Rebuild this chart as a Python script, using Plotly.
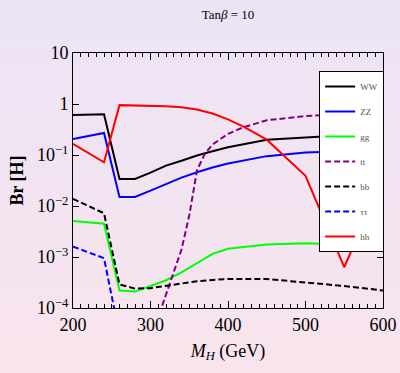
import numpy as np
import plotly.graph_objects as go

# ---------------- data ----------------
mh_main = [200, 240, 260, 280, 300, 320, 340, 360, 380, 400, 450, 500, 550, 600]
br_ww = [0.61, 0.63, 0.034, 0.034, 0.045, 0.062, 0.077, 0.098, 0.118, 0.142, 0.20, 0.225, 0.245, 0.255]
br_zz = [0.205, 0.27, 0.015, 0.015, 0.020, 0.027, 0.036, 0.046, 0.057, 0.068, 0.095, 0.112, 0.12, 0.125]
br_gg = [0.0051, 0.0045, 2.2e-4, 2.1e-4, 2.7e-4, 3.5e-4, 5.0e-4, 7.5e-4, 1.15e-3, 1.45e-3, 1.75e-3, 1.85e-3, 1.75e-3, 1.35e-3]
br_bb = [0.0138, 0.0072, 2.9e-4, 2.4e-4, 2.45e-4, 2.7e-4, 3.0e-4, 3.35e-4, 3.55e-4, 3.7e-4, 3.7e-4, 3.2e-4, 2.7e-4, 2.2e-4]

mh_tau = [200, 240, 260]
br_tau = [1.6e-3, 9.5e-4, 3e-5]

mh_tt = [300, 320, 340, 350, 360, 370, 380, 400, 420, 450, 500, 550, 600]
br_tt = [2.4e-5, 1.9e-4, 1.4e-3, 6.5e-3, 0.05, 0.105, 0.16, 0.26, 0.35, 0.48, 0.58, 0.63, 0.65]

mh_hh = [200, 240, 260, 280, 300, 320, 340, 360, 380, 400, 420, 450, 500, 550, 600]
br_hh = [0.165, 0.072, 0.95, 0.94, 0.92, 0.90, 0.86, 0.78, 0.65, 0.50, 0.36, 0.20, 0.039, 6.3e-4, 0.035]

y_tickvals = [10, 1, 0.1, 0.01, 0.001, 0.0001]
y_ticktext = ["10", "1", "10<sup>−1</sup>", "10<sup>−2</sup>", "10<sup>−3</sup>", "10<sup>−4</sup>"]
x_tickvals = [200, 300, 400, 500, 600]

series = [
    ("WW", mh_main, br_ww, "#000000", "solid"),
    ("ZZ", mh_main, br_zz, "#0000ff", "solid"),
    ("gg", mh_main, br_gg, "#00ff00", "solid"),
    ("tt", mh_tt, br_tt, "#800080", "6px,3px"),
    ("bb", mh_main, br_bb, "#000000", "6px,3px"),
    ("ττ", mh_tau, br_tau, "#0000ff", "6px,3px"),
    ("hh", mh_hh, br_hh, "#ff0000", "solid"),
]

FONT = "Liberation Serif, Times New Roman, serif"

fig = go.Figure()
for name, xs, ys, col, dash in series:
    fig.add_trace(go.Scatter(
        x=xs, y=ys, mode="lines", name=name, legendgroup=name,
        line=dict(color=col, width=2, dash=dash),
    ))

# background gradient (lavender top -> pink bottom)
top_c = np.array([236, 228, 246])
bot_c = np.array([249, 228, 237])
n = 30
edges = np.linspace(1.21, -0.26, n + 1)
shapes = []
for i in range(n):
    t = i / (n - 1)
    c = (top_c * (1 - t) + bot_c * t).astype(int)
    shapes.append(dict(type="rect", xref="paper", yref="paper",
                       x0=-0.3, x1=1.1, y0=edges[i + 1], y1=edges[i],
                       fillcolor=f"rgb({c[0]},{c[1]},{c[2]})",
                       line=dict(width=0), layer="below"))

fig.update_layout(
    width=400, height=373,
    margin=dict(l=73, r=17, t=53, b=65),
    paper_bgcolor="rgb(242,228,242)",
    plot_bgcolor="rgba(0,0,0,0)",
    shapes=shapes,
    font=dict(family=FONT, color="black"),
    title=dict(text="Tan<i>β</i> = 10", x=0.57, xanchor="center",
               y=0.962, yanchor="middle", font=dict(size=13, family=FONT)),
    showlegend=True,
    legend=dict(x=0.794, y=0.929, xanchor="left", yanchor="top",
                bgcolor="white", bordercolor="black", borderwidth=1,
                font=dict(size=9, color="#555555", family=FONT),
                tracegroupgap=6, itemwidth=30),
)

fig.update_xaxes(
    range=[200, 600], tickvals=x_tickvals, automargin=False,
    ticks="inside", ticklen=7, tickwidth=1, tickcolor="black",
    minor=dict(dtick=10, ticks="inside", ticklen=4, tickcolor="black", tickwidth=1),
    showline=True, linecolor="black", linewidth=1, mirror="ticks",
    showgrid=False, zeroline=False,
    tickfont=dict(size=18, family=FONT),
    title=dict(text="<i>M<sub>H</sub></i> (GeV)", font=dict(size=18, family=FONT), standoff=10),
)
fig.update_yaxes(
    type="log", range=[-4, 1], tickvals=y_tickvals, ticktext=y_ticktext, automargin=False,
    ticks="inside", ticklen=6, tickwidth=1, tickcolor="black",
    showline=True, linecolor="black", linewidth=1, mirror="ticks",
    showgrid=False, zeroline=False,
    tickfont=dict(size=18, family=FONT),
    title=dict(text="<b>Br [H]</b>", font=dict(size=18, family=FONT), standoff=8),
)

fig.write_html("out.html", config={"displayModeBar": False},
               post_script="document.body.style.margin='0';")
